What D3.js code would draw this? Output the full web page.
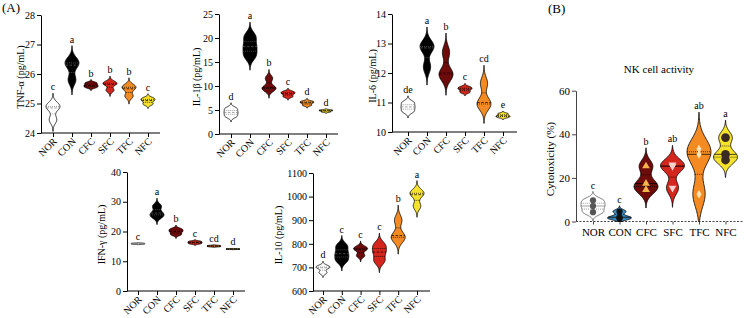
<!DOCTYPE html>
<html>
<head>
<meta charset="utf-8">
<script src="https://cdn.jsdelivr.net/npm/d3@7"></script>
<style>
body { margin: 0; background: #fff; }
svg { display: block; font-family: "Liberation Serif", "Times New Roman", serif; }
</style>
</head>
<body>
<script>
/* global d3 */
var groups  = ['NOR', 'CON', 'CFC', 'SFC', 'TFC', 'NFC'];
var fills   = ['#ffffff', '#000000', '#6e0b0b', '#d3261c', '#f38b22', '#f4e22c'];
var nkFills = ['#ffffff', '#3d8fc4', '#6e0b0b', '#d3261c', '#f38b22', '#f4e22c'];

var tnfValues  = [[24.45, 24.85, 24.95], [25.8, 26.3, 26.45], [25.55, 25.62, 25.7], [25.45, 25.65, 25.72], [25.25, 25.5, 25.6], [24.98, 25.1, 25.18]];
var tnfLetters = ['c', 'a', 'b', 'b', 'b', 'c'];
var il1bValues  = [[3.7, 4.5, 5.3], [16.3, 18.2, 20.3], [9.3, 9.7, 11.6], [7.8, 8.4, 8.8], [6.0, 6.5, 6.8], [4.6, 4.85, 5.0]];
var il1bLetters = ['d', 'a', 'b', 'c', 'd', 'd'];
var il6Values  = [[10.7, 10.85, 11.0], [12.2, 12.85, 12.95], [11.9, 12.0, 12.7], [11.35, 11.45, 11.52], [10.9, 11.0, 11.65], [10.5, 10.55, 10.62]];
var il6Letters = ['de', 'a', 'b', 'c', 'cd', 'e'];
var ifnValues  = [[15.75, 15.9, 16.05], [25.0, 26.2, 28.5], [19.0, 20.0, 20.8], [15.9, 16.3, 16.7], [14.9, 15.1, 15.3], [14.0, 14.1, 14.2]];
var ifnLetters = ['c', 'a', 'b', 'c', 'cd', 'd'];
var il10Values  = [[678, 698, 705], [730, 758, 790], [750, 775, 785], [728, 765, 795], [820, 835, 900], [960, 1008, 1020]];
var il10Letters = ['d', 'c', 'c', 'c', 'b', 'a'];

// panel B
var nkValues  = [[4.3, 7.1, 9.7], [1.3, 2.0, 4.6], [14.6, 17.4, 25.4], [15.4, 25.3, 26.0], [12.5, 30.8, 33.2], [28.2, 30.8, 38.5]];
var nkLetters = ['c', 'c', 'b', 'ab', 'ab', 'a'];

var svg = d3.select('body').append('svg')
  .attr('width', 744)
  .attr('height', 318)
  .attr('viewBox', '0 0 744 318');

/*
* Gaussian kernel density of a group, scaled to a maximum of 1
*/
function density(vals, floor) {
  var bw = d3.deviation(vals) * 0.5;
  var f = function (v) {
    return d3.mean(vals, function (x) { return Math.exp(-0.5 * Math.pow((v - x) / bw, 2)); });
  };
  var lo = d3.min(vals) - 3 * bw;
  var hi = d3.max(vals) + 3 * bw;
  if (floor !== undefined && lo < floor) lo = floor;
  var pts = d3.range(0, 81).map(function (i) {
    var v = lo + (hi - lo) * i / 80;
    return [v, f(v)];
  });
  var mx = d3.max(pts, function (p) { return p[1]; });
  return {
    pts: pts.map(function (p) { return [p[0], p[1] / mx]; }),
    at: function (v) { return f(v) / mx; },
    lo: lo,
    hi: hi
  };
}

function panel(cfg) {
  var x = d3.scalePoint().domain(groups).range([cfg.first, cfg.first + 5 * cfg.step]);
  var y = d3.scaleLinear().domain(cfg.domain).range([cfg.bottom, cfg.top]);
  var g = svg.append('g');
  var axisColor = cfg.axisColor || '#000';

  var ya = g.append('g')
    .attr('transform', 'translate(' + cfg.x0 + ',0)')
    .call(d3.axisLeft(y).tickValues(cfg.ticks).tickFormat(d3.format('d')).tickSize(4).tickSizeOuter(0));
  ya.attr('font-family', null).attr('font-size', cfg.tickFont || 10);
  ya.selectAll('path, line').attr('stroke', axisColor).attr('stroke-width', 1);
  ya.selectAll('text').attr('fill', '#000').attr('x', -6);

  var xa = g.append('g')
    .attr('transform', 'translate(0,' + cfg.bottom + ')')
    .call(d3.axisBottom(x).tickSize(cfg.rotate ? 4 : 3).tickSizeOuter(0));
  xa.attr('font-family', null).attr('font-size', cfg.rotate ? 10 : 11);
  xa.select('.domain').remove();
  xa.selectAll('line').attr('stroke', axisColor);
  xa.append('line')
    .attr('x1', cfg.x0).attr('x2', cfg.xEnd)
    .attr('stroke', axisColor)
    .attr('stroke-width', 1)
    .attr('stroke-dasharray', cfg.dashAxis ? '2,1.5' : null);
  var xt = xa.selectAll('text').attr('fill', '#000');
  if (cfg.rotate) {
    xt.attr('text-anchor', 'end')
      .attr('dy', null).attr('y', 0)
      .attr('transform', 'translate(4,9) rotate(-45)');
  } else {
    xt.attr('y', 7).attr('dy', '0.71em');
  }

  g.append('text')
    .attr('transform', 'translate(' + cfg.labelX + ',' + ((cfg.top + cfg.bottom) / 2 + 3) + ') rotate(-90)')
    .attr('text-anchor', 'middle')
    .attr('font-size', cfg.labelFont || 10)
    .attr('fill', '#000')
    .text(cfg.label);

  var w = d3.scaleLinear().domain([0, 1]).range([0, cfg.halfWidth]);
  var area = d3.area()
    .y(function (p) { return y(p[0]); })
    .x0(function (p) { return -w(p[1]); })
    .x1(function (p) { return w(p[1]); })
    .curve(d3.curveBasis);

  cfg.values.forEach(function (vals, i) {
    var k = density(vals, cfg.floor);
    var vg = g.append('g').attr('transform', 'translate(' + x(groups[i]) + ',0)');
    var fill = cfg.fills[i];
    vg.append('path')
      .attr('d', area(k.pts))
      .attr('fill', fill)
      .attr('stroke', i === 0 && cfg.markers ? '#555' : '#000')
      .attr('stroke-width', 0.8);

    var sorted = vals.slice().sort(d3.ascending);
    var lineColor = i === 0 ? '#777' : (i === 1 && !cfg.markers ? '#666' : '#000');
    [[0.25, '1,1'], [0.5, '2.5,1.5'], [0.75, '1,1']].forEach(function (q) {
      var v = d3.quantile(sorted, q[0]);
      var hw = w(k.at(v));
      vg.append('line')
        .attr('x1', -hw).attr('x2', hw)
        .attr('y1', y(v)).attr('y2', y(v))
        .attr('stroke', lineColor)
        .attr('stroke-width', 0.7)
        .attr('stroke-dasharray', cfg.markers && q[0] === 0.5 ? null : q[1]);
    });

    if (cfg.markers) {
      var m = cfg.markers[i];
      vals.forEach(function (v) {
        vg.append('path')
          .attr('transform', 'translate(0,' + y(v) + ')' + (m.rotate ? ' rotate(180)' : ''))
          .attr('d', d3.symbol().type(m.type).size(m.size)())
          .attr('fill', m.fill)
          .attr('stroke', m.stroke || 'none')
          .attr('stroke-width', 0.5);
      });
    }

    g.append('text')
      .attr('x', x(groups[i]))
      .attr('y', y(k.hi) - 3)
      .attr('text-anchor', 'middle')
      .attr('font-size', cfg.letterFont || 10)
      .attr('fill', '#000')
      .text(cfg.letters[i]);
  });
}

panel({ label: 'TNF-\u03b1 (pg/mL)', values: tnfValues, letters: tnfLetters, fills: fills,
  domain: [24, 28], ticks: [24, 25, 26, 27, 28], x0: 41, first: 53, step: 19, xEnd: 160,
  top: 15, bottom: 133, labelX: 24, halfWidth: 7, rotate: true });
panel({ label: 'IL-1\u03b2 (pg/mL)', values: il1bValues, letters: il1bLetters, fills: fills,
  domain: [0, 25], ticks: [0, 5, 10, 15, 20, 25], x0: 219, first: 231, step: 19, xEnd: 338,
  top: 14, bottom: 134, labelX: 200, halfWidth: 7, rotate: true });
panel({ label: 'IL-6 (pg/mL)', values: il6Values, letters: il6Letters, fills: fills,
  domain: [10, 14], ticks: [10, 11, 12, 13, 14], x0: 392, first: 408, step: 19, xEnd: 517,
  top: 14, bottom: 132, labelX: 376, halfWidth: 7, rotate: true });
panel({ label: 'IFN-\u03b3 (pg/mL)', values: ifnValues, letters: ifnLetters, fills: fills,
  domain: [0, 40], ticks: [0, 10, 20, 30, 40], x0: 127, first: 138, step: 19, xEnd: 245,
  top: 172, bottom: 291, labelX: 105, halfWidth: 7, rotate: true });
panel({ label: 'IL-10 (pg/mL)', values: il10Values, letters: il10Letters, fills: fills,
  domain: [600, 1100], ticks: [600, 700, 800, 900, 1000, 1100], x0: 313, first: 323, step: 18.8, xEnd: 430,
  top: 173, bottom: 291, labelX: 282, halfWidth: 7, rotate: true });

panel({ label: 'Cytotoxicity (%)', values: nkValues, letters: nkLetters, fills: nkFills,
  domain: [0, 60], ticks: [0, 20, 40, 60], x0: 576, first: 593, step: 26.5, xEnd: 744,
  top: 90.7, bottom: 221.5, labelX: 554, halfWidth: 12, floor: 0, dashAxis: true,
  axisColor: '#444', tickFont: 11, labelFont: 11, letterFont: 10,
  markers: [
    { type: d3.symbolCircle, size: 30, fill: '#555' },
    { type: d3.symbolCircle, size: 30, fill: '#111' },
    { type: d3.symbolTriangle, size: 26, fill: '#f6b347' },
    { type: d3.symbolTriangle, size: 26, fill: '#f8d0cc', rotate: true },
    { type: d3.symbolDiamond, size: 22, fill: '#fde4b4' },
    { type: d3.symbolCircle, size: 60, fill: '#3b2a22' }
  ] });

svg.append('text').attr('x', 659).attr('y', 73).attr('text-anchor', 'middle')
  .attr('font-size', 11).attr('fill', '#000').text('NK cell activity');
svg.append('text').attr('x', 2).attr('y', 12).attr('font-size', 13).attr('fill', '#000').text('(A)');
svg.append('text').attr('x', 548).attr('y', 13).attr('font-size', 13).attr('fill', '#000').text('(B)');
</script>
</body>
</html>
